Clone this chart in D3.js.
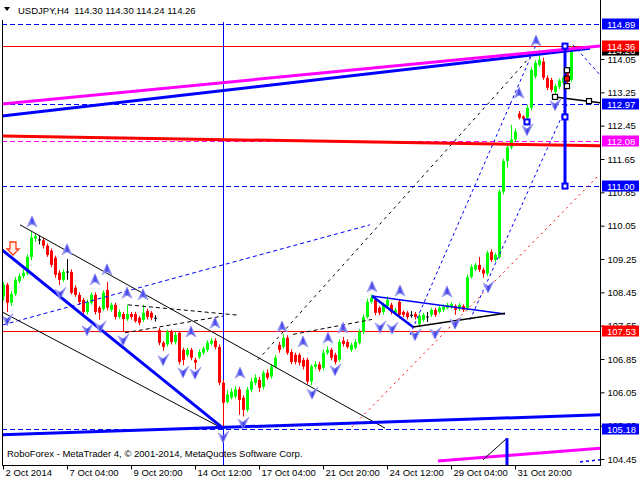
<!DOCTYPE html>
<html><head><meta charset="utf-8">
<script src="https://cdn.jsdelivr.net/npm/d3@7"></script>
<style>body{margin:0;background:#fff}svg{display:block}text{font-family:"Liberation Sans",Arial,sans-serif}</style>
</head><body>
<svg id="c" width="640" height="480"></svg>
<script>
// ---------- data ----------
const symbolTitle = "USDJPY,H4  114.30 114.30 114.24 114.26";
const footerText = "RoboForex - MetaTrader 4, © 2001-2014, MetaQuotes Software Corp.";
const timeTickBars = [0,16,32,48,64,80,96,112,128];
const timeTickLabels = ["2 Oct 2014","7 Oct 04:00","9 Oct 20:00","14 Oct 12:00","17 Oct 04:00","21 Oct 20:00","24 Oct 12:00","29 Oct 04:00","31 Oct 20:00"];
const priceTicks = [104.45,105.25,106.05,106.85,107.65,108.45,109.25,110.05,110.85,111.65,112.45,113.25,114.05];

const barOpen = [108.35,108.63,108.20,108.41,108.72,108.84,108.90,109.30,109.74,109.72,109.70,109.57,109.45,109.28,108.92,108.75,108.94,108.94,108.56,108.39,108.27,107.98,108.20,108.39,108.08,108.05,108.51,108.03,108.15,107.86,107.93,107.81,107.93,107.93,107.84,107.79,108.00,107.96,107.84,107.55,107.24,107.20,107.50,107.26,107.48,107.07,106.95,107.07,106.83,106.90,107.00,107.07,107.22,107.29,107.14,106.28,105.82,105.92,105.95,106.12,105.92,105.63,106.11,106.28,106.35,106.18,106.52,106.43,106.67,107.19,107.14,107.36,107.02,106.95,106.95,106.83,106.83,106.31,106.66,106.72,106.64,107.00,107.07,106.95,106.83,107.29,107.26,107.07,107.12,107.24,107.50,107.86,108.22,108.27,108.08,107.98,108.12,108.15,107.96,108.22,107.98,107.96,107.91,107.93,107.69,107.79,107.86,107.91,108.03,107.98,108.03,108.08,108.10,108.12,108.05,108.12,108.08,108.82,109.00,109.11,108.99,108.90,109.42,109.23,109.30,110.87,111.60,111.93,112.12,112.74,112.67,112.64,112.88,113.63,113.91,113.99,113.60,113.55,113.26,113.38,113.48,113.79,113.55,114.30];
const barHigh = [108.70,108.68,108.48,108.82,108.90,109.00,109.36,109.92,109.85,109.82,109.76,109.62,109.50,109.33,108.98,109.00,109.25,109.00,108.62,108.45,108.32,108.28,108.45,108.45,108.12,108.50,108.70,108.20,108.20,108.04,107.98,108.15,107.98,107.98,107.88,108.15,108.06,108.00,107.90,107.60,107.28,107.55,107.55,107.50,107.52,107.12,107.12,107.12,106.88,107.08,107.15,107.30,107.35,107.35,107.20,106.35,106.10,106.15,106.20,106.18,105.98,106.18,106.40,106.48,106.42,106.58,106.60,106.72,106.95,107.26,107.45,107.42,107.08,107.00,107.00,106.88,106.88,106.72,106.80,106.78,107.08,107.15,107.12,107.00,107.32,107.38,107.32,107.24,107.32,107.56,107.92,108.30,108.40,108.33,108.12,108.20,108.35,108.20,108.08,108.28,108.02,108.00,108.00,107.98,107.94,107.96,107.98,108.08,108.08,108.12,108.16,108.20,108.22,108.16,108.20,108.16,108.88,109.12,109.16,109.30,109.04,109.45,109.48,109.40,110.92,111.66,111.98,112.47,112.38,112.80,112.70,112.95,113.85,114.02,114.28,114.08,113.66,113.60,113.45,113.58,113.66,113.85,114.36,114.30];
const barLow = [108.25,107.98,108.12,108.36,108.66,108.78,108.86,109.22,109.66,109.60,109.50,109.30,109.05,108.80,108.63,108.70,108.75,108.40,108.34,108.15,107.92,107.92,108.15,107.92,107.79,108.00,108.02,107.98,107.80,107.82,107.50,107.76,107.80,107.72,107.66,107.74,107.80,107.78,107.75,107.18,107.05,107.15,107.20,107.20,106.72,106.70,106.90,106.82,106.60,106.85,106.95,107.02,107.18,107.08,106.22,105.20,105.78,105.88,105.90,105.51,105.47,105.58,106.05,106.22,106.06,106.12,106.35,106.38,106.62,107.00,107.10,106.95,106.72,106.72,106.70,106.60,106.25,106.22,106.60,106.55,106.58,106.95,106.82,106.72,106.78,107.15,107.10,107.02,107.08,107.20,107.45,107.82,108.18,107.90,107.90,107.92,108.08,107.92,107.90,107.85,107.85,107.80,107.84,107.80,107.64,107.74,107.74,107.86,107.86,107.94,107.98,108.04,108.05,107.91,108.00,107.98,108.02,108.78,108.96,108.94,108.80,108.84,109.18,109.18,109.26,110.80,111.44,111.88,112.06,112.60,112.57,112.58,112.82,113.58,113.86,113.55,113.30,113.25,113.06,113.33,113.43,113.45,113.50,114.24];
const barClose = [108.63,108.20,108.41,108.75,108.84,108.92,109.30,109.76,109.80,109.72,109.57,109.35,109.11,108.87,108.75,108.94,108.95,108.44,108.39,108.22,107.98,108.22,108.39,107.98,107.96,108.44,108.08,108.15,107.86,107.98,107.81,107.93,107.86,107.76,107.72,107.96,107.86,107.84,107.84,107.24,107.14,107.50,107.26,107.43,106.78,106.83,107.07,106.88,106.76,107.02,107.10,107.24,107.29,107.14,106.28,105.80,106.00,106.07,106.12,105.87,105.63,106.11,106.31,106.40,106.16,106.52,106.40,106.67,106.88,107.07,107.36,107.00,106.78,106.78,106.76,106.67,106.31,106.67,106.72,106.60,107.00,107.07,106.88,106.78,107.26,107.21,107.14,107.19,107.26,107.50,107.86,108.22,108.32,107.96,107.96,108.15,108.27,107.98,108.03,107.91,107.91,107.86,107.91,107.86,107.88,107.91,107.87,108.03,107.91,108.08,108.10,108.15,108.17,108.03,108.15,108.03,108.82,109.06,109.11,108.99,108.90,109.40,109.23,109.35,110.87,111.60,111.93,112.12,112.31,112.64,112.62,112.88,113.79,113.96,114.03,113.60,113.36,113.31,113.40,113.53,113.60,113.50,114.27,114.26];

// horizontal level objects
const levelPrices = [114.89,114.36,112.97,112.08,111.00,107.53,105.18];
const levelKinds  = ["blueDash","red","blueDash","magentaDash","blueDash","red","blueDash"];
const currentPrice = 114.26;

// trend objects anchored at [bar index, price]
const trendBlueTop      = [[-0.25,112.68],[146.75,114.31]];
const trendMagentaTop   = [[-0.25,112.97],[149.25,114.36]];
const trendRedMid       = [[-0.25,112.20],[149.25,111.97]];
const trendBlueBottom   = [[-0.25,105.03],[149.25,105.51]];
const trendMagentaLow   = [[108.75,104.40],[149.25,104.71]];
const channelBlue       = [[-0.25,109.47],[55,105.19]];
const channelBlackUp    = [[4.25,110.07],[95.5,105.19]];
const channelBlackLow   = [[-0.25,107.98],[54.75,105.19]];
const blueDashRise      = [[0,107.67],[91.75,110.07]];
const wedgeTop          = [[31.25,108.15],[59,107.90]];
const wedgeBottom       = [[30.5,107.48],[55,107.88]];
const blackDashFlat     = [[72.5,107.44],[92.25,107.80]];
const blackDashSteep    = [[63.75,106.83],[131.75,114.10]];
const redDotRise        = [[87.25,105.22],[149.25,111.29]];
const fanLineA          = [[101.75,107.43],[133.25,114.39]];
const fanLineB          = [[116.75,107.79],[141,112.95]];
const fanLineC          = [[142.5,114.39],[149.25,113.67]];
const triBlueTop        = [[92.25,108.36],[125.5,107.93]];
const triBlueThick      = [[92.25,108.36],[102.5,107.62]];
const triBlack          = [[102.5,107.62],[125.5,107.95]];
const projVertical      = [[140.5,114.36],[140.5,111.00]];
const projSquares       = [[140.5,114.36],[140.5,112.66],[140.5,111.00],[131,112.54]];
const blackPath         = [[138,113.14],[149.25,113.00]];
const blackSquares      = [[138,113.14],[146.5,113.04],[141,113.78],[141,113.40]];
const redSquares        = [[141,113.58]];
const bottomBlack       = [[120,104.43],[126,104.95]];
const bottomBlueVert    = [[126,104.95],[126,104.25]];
const bottomBlueDash    = [[144.25,104.38],[149.25,104.43]];

const upMarks = [[7.25,110.14],[16,109.47],[23,108.75],[26,108.99],[31,108.43],[35,108.39],[47,107.50],[53,107.71],[59.25,106.51],[69.75,107.62],[75,107.26],[81.25,107.35],[85,107.59],[92.25,108.58],[99.25,108.48],[111,108.46],[129,113.23],[133.25,114.48]];
const downMarks = [[1,107.79],[14.25,108.43],[21,107.55],[24.25,107.62],[30,107.31],[40,106.83],[45,106.54],[48,106.51],[55,104.98],[60,105.31],[77.25,106.03],[83,106.59],[94.25,107.62],[97.25,107.59],[103,107.43],[108,107.47],[113,107.71],[121.25,108.58],[131,112.35],[138,112.95]];
const signalArrow = [2.5,109.49];

// ---------- drawing ----------
const svg = d3.select("#c");
const L = 2, R = 600, B = 465;
const x = d3.scaleLinear().domain([-0.25,149.25]).range([L,R]);
const y = d3.scaleLinear().domain([104.45,114.05]).range([459,59]);

svg.append("rect").attr("width",640).attr("height",480).attr("fill","#fff");
const defs = svg.append("defs");
defs.append("clipPath").attr("id","plot").append("rect").attr("x",L).attr("y",0).attr("width",R-L).attr("height",B);

const plot = svg.append("g").attr("clip-path","url(#plot)");
const line = d3.line().x(d=>x(d[0])).y(d=>y(d[1]));

const levelStyle = {blueDash:["#0000ff","5,3"],red:["#ff0000",null],magentaDash:["#ff00ff","5,3"]};
levelPrices.forEach((p,i)=>{
  const st = levelStyle[levelKinds[i]];
  plot.append("line").attr("x1",L).attr("x2",R).attr("y1",Math.round(y(p))+0.5).attr("y2",Math.round(y(p))+0.5)
    .attr("stroke",st[0]).attr("stroke-width",1).attr("stroke-dasharray",st[1]);
});
plot.append("line").attr("x1",Math.round(x(55))+0.5).attr("x2",Math.round(x(55))+0.5).attr("y1",22).attr("y2",B)
  .attr("stroke","#0000ff").attr("stroke-width",1);

// candles
const n = barOpen.length;
const cg = plot.append("g");
for(let i=0;i<n;i++){
  const o=barOpen[i],h=barHigh[i],l=barLow[i],c=barClose[i];
  const doji = Math.abs(o-c)<0.015;
  const col = doji?"#000000":(c>o?"#00ff00":"#ff0000");
  const cx = Math.round(x(i));
  cg.append("line").attr("x1",cx+0.5).attr("x2",cx+0.5).attr("y1",y(h)).attr("y2",y(l)).attr("stroke",col).attr("stroke-width",1);
  const top = Math.min(y(o),y(c)), bot = Math.max(y(o),y(c));
  cg.append("rect").attr("x",cx-1).attr("y",top).attr("width",3).attr("height",Math.max(1,bot-top)).attr("fill",col);
}

function tl(pts,color,w,dash){
  plot.append("path").attr("d",line(pts)).attr("fill","none").attr("stroke",color).attr("stroke-width",w)
    .attr("stroke-dasharray",dash||null);
}
tl(blueDashRise,"#0000ff",1,"4,3");
tl(wedgeTop,"#000000",1,"4,3");
tl(wedgeBottom,"#000000",1,"4,3");
tl(blackDashFlat,"#000000",1,"4,3");
tl(blackDashSteep,"#000000",1,"3,4");
tl(redDotRise,"#ff0000",1,"2,4");
tl(fanLineA,"#0000ff",1,"3,3");
tl(fanLineB,"#0000ff",1,"3,3");
tl(fanLineC,"#0000ff",1,"3,3");
tl(channelBlackUp,"#000000",1);
tl(channelBlackLow,"#000000",1);
tl(channelBlue,"#0000ff",3);
tl(trendRedMid,"#ff0000",3);
tl(trendBlueBottom,"#0000ff",3);
tl(trendMagentaLow,"#ff00ff",3);
tl(trendBlueTop,"#0000ff",3);
tl(trendMagentaTop,"#ff00ff",3);
tl(triBlueTop,"#0000ff",1.5);
tl(triBlueThick,"#0000ff",2.5);
tl(triBlack,"#000000",1.5);
tl(bottomBlack,"#000000",1);
tl(bottomBlueVert,"#0000ff",3);
tl(bottomBlueDash,"#0000ff",1.5,"3,3");
tl(blackPath,"#000000",1.5);
tl(projVertical,"#0000ff",3);
projSquares.forEach(p=>plot.append("rect").attr("x",x(p[0])-2.5).attr("y",y(p[1])-2.5).attr("width",5).attr("height",5)
  .attr("fill","#fff").attr("stroke","#0000ff").attr("stroke-width",2));
blackSquares.forEach(p=>plot.append("rect").attr("x",x(p[0])-2.5).attr("y",y(p[1])-2.5).attr("width",5).attr("height",5)
  .attr("fill","#fff").attr("stroke","#000").attr("stroke-width",1.2));
redSquares.forEach(p=>plot.append("rect").attr("x",x(p[0])-2.5).attr("y",y(p[1])-2.5).attr("width",5).attr("height",5)
  .attr("fill","#ff0000").attr("stroke","#000").attr("stroke-width",1));

// fractal markers
const grad = defs.append("linearGradient").attr("id","mk").attr("x1","0").attr("x2","1").attr("y1","0").attr("y2","0");
grad.append("stop").attr("offset","0").attr("stop-color","#d0d0ff");
grad.append("stop").attr("offset","0.5").attr("stop-color","#4040e8");
grad.append("stop").attr("offset","1").attr("stop-color","#b0b0f8");
upMarks.forEach(p=>plot.append("path").attr("transform",`translate(${x(p[0])},${y(p[1])})`)
  .attr("d","M0,-6 L5,5 L0,2 L-5,5 Z").attr("fill","url(#mk)").attr("stroke","#8c8cf0").attr("stroke-width",0.7));
downMarks.forEach(p=>plot.append("path").attr("transform",`translate(${x(p[0])},${y(p[1])})`)
  .attr("d","M0,6 L-5,-4 L0,-1 L6,-6 Z").attr("fill","url(#mk)").attr("stroke","#8c8cf0").attr("stroke-width",0.7));
plot.append("path").attr("transform",`translate(${x(signalArrow[0])},${y(signalArrow[1])})`)
  .attr("d","M-3,-7 L3,-7 L3,0 L6,0 L0,6 L-6,0 L-3,0 Z").attr("fill","#fff0e8").attr("stroke","#ff3c14").attr("stroke-width",1.3);

// frame
svg.append("line").attr("x1",L+0.5).attr("x2",L+0.5).attr("y1",20).attr("y2",B).attr("stroke","#000");
svg.append("line").attr("x1",R+0.5).attr("x2",R+0.5).attr("y1",0).attr("y2",B+0.5).attr("stroke","#000");
svg.append("line").attr("x1",L).attr("x2",R+1).attr("y1",B+0.5).attr("y2",B+0.5).attr("stroke","#000");

// price axis
const ya = svg.append("g").attr("transform",`translate(${R+0.5},0)`)
  .call(d3.axisRight(y).tickValues(priceTicks).tickSize(4).tickPadding(3).tickFormat(d3.format(".2f")));
ya.select(".domain").remove();
ya.selectAll("text").attr("font-size","9.5px").attr("fill","#000").style("font-family","'Liberation Sans',Arial,sans-serif");
ya.selectAll("line").attr("stroke","#000");

// time axis
const xa = svg.append("g").attr("transform",`translate(0,${B+0.5})`)
  .call(d3.axisBottom(x).tickValues(timeTickBars).tickSize(4).tickFormat((d,i)=>timeTickLabels[i]));
xa.select(".domain").remove();
xa.selectAll("text").attr("text-anchor","start").attr("dx","0").attr("x",2).attr("y",4).attr("dy","0.71em")
  .attr("font-size","9.5px").attr("fill","#000").style("font-family","'Liberation Sans',Arial,sans-serif");
xa.selectAll("line").attr("stroke","#000");

// level tags
function tag(p,bg){
  const g = svg.append("g").attr("transform",`translate(${R+2},${Math.round(y(p))})`);
  g.append("rect").attr("x",0).attr("y",-5.5).attr("width",37).attr("height",11).attr("fill",bg);
  g.append("text").attr("x",5).attr("y",3.5).attr("font-size","9.5px").attr("fill","#fff").text(d3.format(".2f")(p));
}
tag(currentPrice,"#000000");
const tagColor = {blueDash:"#0000ff",red:"#ff0000",magentaDash:"#ff00ff"};
levelPrices.forEach((p,i)=>tag(p,tagColor[levelKinds[i]]));

// title and footer
svg.append("path").attr("d","M4,7 L10,7 L7,11 Z").attr("fill","#000");
svg.append("text").attr("x",18).attr("y",14).attr("font-size","9.5px").attr("fill","#000").style("white-space","pre").text(symbolTitle);
svg.append("text").attr("x",7).attr("y",457).attr("font-size","9.5px").attr("fill","#000").text(footerText);
</script>
</body></html>
